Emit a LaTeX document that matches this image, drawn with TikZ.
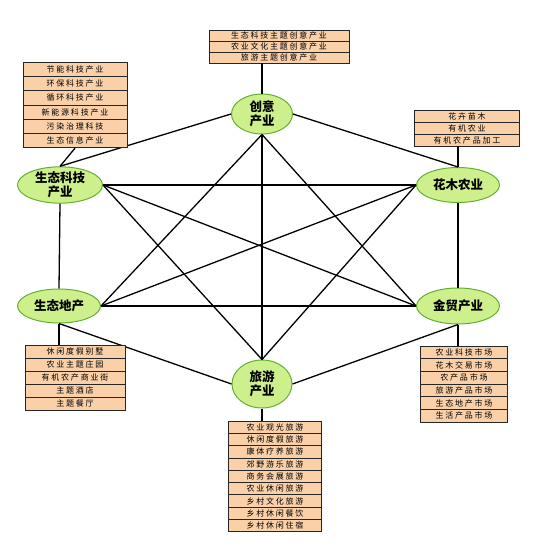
\documentclass[tikz,border=0pt]{standalone}
\usepackage{fontspec}
\setmainfont{Noto Sans CJK SC}
\newfontfamily\rowfont[LetterSpace=22]{Noto Sans CJK SC}
\usetikzlibrary{shapes.geometric}
\definecolor{leafgreen}{RGB}{206,240,140}
\definecolor{leafedge}{RGB}{100,175,50}
\definecolor{peach}{RGB}{250,208,168}
\tikzset{
	hub/.style={ellipse, draw=leafedge, line width=1pt, fill=leafgreen, inner sep=0pt,
		align=center, font=\fontsize{12.5}{13.5}\selectfont\bfseries},
	row/.style={rectangle, draw=black!85, line width=0.8pt, fill=peach, inner sep=0pt,
		font=\rowfont\fontsize{8}{8.5}\selectfont},
	link/.style={line width=1.3pt, black}
}
\begin{document}
\begin{tikzpicture}[x=1pt,y=-1pt]
		\useasboundingbox (0,0) rectangle (541,546);
		% six industries
		\node[hub, minimum width=61, minimum height=40] (cy) at (262,114) {创意\\产业};
		\node[hub, minimum width=85, minimum height=34] (kj) at (60,185) {生态科技\\产业};
		\node[hub, minimum width=83, minimum height=35] (hm) at (458,185) {花木农业};
		\node[hub, minimum width=83, minimum height=34] (dc) at (59,306) {生态地产};
		\node[hub, minimum width=83, minimum height=36] (jm) at (458,306) {金贸产业};
		\node[hub, minimum width=60, minimum height=48] (ly) at (262,384) {旅游\\产业};
		% all links between them
		\draw[link] (cy.west) -- (kj.north);
		\draw[link] (cy.east) -- (hm.north);
		\draw[link] (cy.south) -- (ly.north);
		\draw[link] (cy.south) -- (dc.east);
		\draw[link] (cy.south) -- (jm.west);
		\draw[link] (kj.east) -- (hm.west);
		\draw[link] (kj.east) -- (jm.west);
		\draw[link] (kj.east) -- (ly.north);
		\draw[link] (kj.south) -- (dc.north);
		\draw[link] (hm.west) -- (dc.east);
		\draw[link] (hm.west) -- (ly.north);
		\draw[link] (hm.south) -- (jm.north);
		\draw[link] (dc.east) -- (jm.west);
		\draw[link] (dc.south) -- (ly.west);
		\draw[link] (jm.south) -- (ly.east);
		% lists
		\foreach \t [count=\i] in {生态科技主题创意产业,农业文化主题创意产业,旅游主题创意产业}
			\node[row, minimum width=140, minimum height=11] (ct\i) at (279,{30+(\i-0.5)*11}) {\t};
		\foreach \t [count=\i] in {节能科技产业,环保科技产业,循环科技产业,新能源科技产业,污染治理科技,生态信息产业}
			\node[row, minimum width=104, minimum height=14.3] (kt\i) at (75,{62+(\i-0.5)*14.3}) {\t};
		\foreach \t [count=\i] in {花卉苗木,有机农业,有机农产品加工}
			\node[row, minimum width=105, minimum height=12] (ht\i) at (467,{110+(\i-0.5)*12}) {\t};
		\foreach \t [count=\i] in {休闲度假别墅,农业主题庄园,有机农产商业街,主题酒店,主题餐厅}
			\node[row, minimum width=100, minimum height=13] (dt\i) at (75,{345+(\i-0.5)*13}) {\t};
		\foreach \t [count=\i] in {农业科技市场,花木交易市场,农产品市场,旅游产品市场,生态地产市场,生活产品市场}
			\node[row, minimum width=87, minimum height=12.7] (jt\i) at (464,{346+(\i-0.5)*12.7}) {\t};
		\foreach \t [count=\i] in {农业观光旅游,休闲度假旅游,康体疗养旅游,郊野游乐旅游,商务会展旅游,农业休闲旅游,乡村文化旅游,乡村休闲餐饮,乡村休闲住宿}
			\node[row, minimum width=93, minimum height=12.3] (lt\i) at (275,{421+(\i-0.5)*12.3}) {\t};
		% list to industry
		\draw[link] (cy.north) -- (cy.north |- ct3.south);
		\draw[link] (kj.north) -- (kt6.south);
		\draw[link] (hm.north) -- (hm.north |- ht3.south);
		\draw[link] (dc.south) -- (dc.south |- dt1.north);
		\draw[link] (jm.south) -- (jm.south |- jt1.north);
		\draw[link] (ly.south) -- (ly.south |- lt1.north);
\end{tikzpicture}
\end{document}
